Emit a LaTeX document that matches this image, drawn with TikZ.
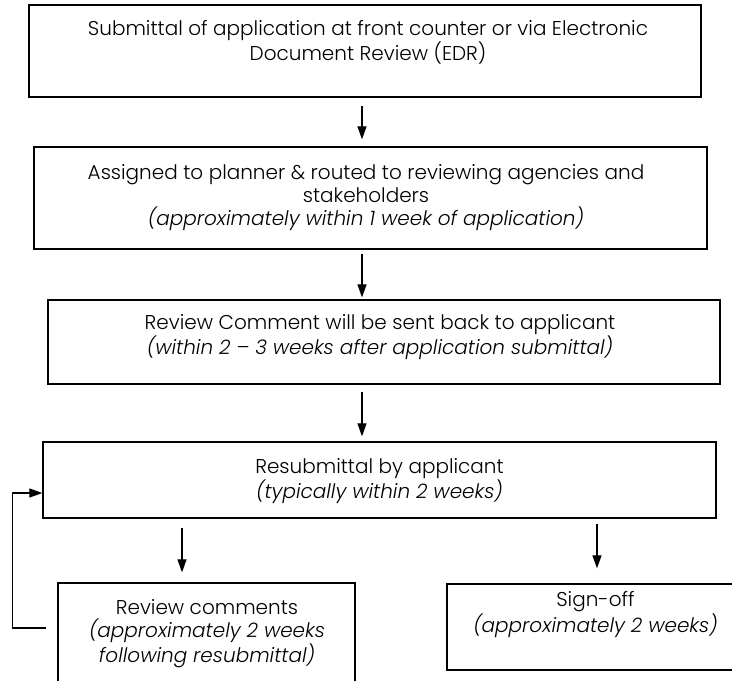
\documentclass[tikz,border=0pt]{standalone}
\usepackage{fontspec}
\setmainfont{Poppins Light}[ItalicFont={Poppins Light Italic}]
\usetikzlibrary{arrows.meta}
\tikzset{
  box/.style={draw=black, line width=1.3pt, rectangle, inner sep=0pt},
  txt/.style={align=center, inner sep=0pt, anchor=base, font=\fontsize{20pt}{23pt}\selectfont},
  arr/.style={draw=black, line width=1.2pt, -{Triangle[length=13pt,width=9pt]}}
}
\begin{document}
\begin{tikzpicture}[x=1pt,y=-1pt]
\useasboundingbox (0,0) rectangle (732,681);
\clip (0,0) rectangle (732,681);
\node[box, minimum width=672pt, minimum height=92pt] (b1) at (365,51) {};
\node[box, minimum width=673pt, minimum height=102pt] (b2) at (370.5,198) {};
\node[box, minimum width=672pt, minimum height=84pt] (b3) at (384,342) {};
\node[box, minimum width=673pt, minimum height=76pt] (b4) at (379.5,480) {};
\node[box, minimum width=297pt, minimum height=117pt] (b5) at (206.5,641.5) {};
\node[box, minimum width=298pt, minimum height=86pt] (b6) at (596,627) {};

% base anchor = baseline of the last line
\node[txt] (t1) at (368,60) {Submittal of application at front counter or via Electronic\\Document Review (EDR)};
\node[txt] (t2) at (366,225) {Assigned to planner \& routed to reviewing agencies and\\stakeholders\\\textit{(approximately within 1 week of application)}};
\node[txt] (t3) at (380,354) {Review Comment will be sent back to applicant\\\textit{(within 2 – 3 weeks after application submittal)}};
\node[txt] (t4) at (379.5,498) {Resubmittal by applicant\\\textit{(typically within 2 weeks)}};
\node[txt] (t5) at (207,662) {Review comments\\\textit{(approximately 2 weeks}\\\textit{following resubmittal)}};
\node[txt] (t6) at (595.5,632) {Sign-off\\\textit{(approximately 2 weeks)}};

\draw[arr, shorten <=8pt, shorten >=7pt] ([xshift=-3pt]b1.south) -- ([xshift=-8.5pt]b2.north);
\draw[arr, shorten <=4pt, shorten >=2pt] ([xshift=-8.5pt]b2.south) -- ([xshift=-22pt]b3.north);
\draw[arr, shorten <=7pt, shorten >=5pt] ([xshift=-22pt]b3.south) -- ([xshift=-17.5pt]b4.north);
\draw[arr, shorten <=9pt, shorten >=10pt] ([xshift=-197.5pt]b4.south) -- ([xshift=-24.5pt]b5.north);
\draw[arr, shorten <=5pt, shorten >=15pt] ([xshift=217.5pt]b4.south) -- ([xshift=1pt]b6.north);
\coordinate (fb) at (12.6,628);
\draw[arr, shorten <=11pt] ([yshift=13.5pt]b5.west) -- (fb) |- ([yshift=-13pt]b4.west);
\end{tikzpicture}
\end{document}
